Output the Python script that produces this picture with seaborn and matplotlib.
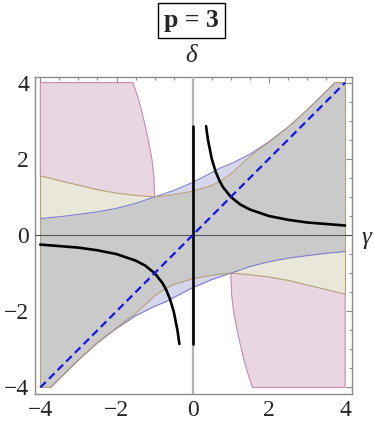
import numpy as np
import pandas as pd
import matplotlib
matplotlib.use("Agg")
import matplotlib.pyplot as plt
from matplotlib.ticker import MultipleLocator, FixedLocator
import seaborn as sns

# ---------------- data ----------------
gam = [-4.0, -3.73, -3.5, -3.0, -2.5, -2.0, -1.5, -1.0, -0.7, -0.5, 0.0,
       0.5, 0.7, 1.0, 1.5, 2.0, 2.5, 3.0, 3.5, 3.73, 4.0]
# upper tan (yellow-region) boundary
upper_tan = [1.55, 1.49, 1.43, 1.31, 1.19, 1.10, 1.04, 1.00, 1.03, 1.06, 1.15,
             1.30, 1.40, 1.60, 2.06, 2.43, 2.82, 3.28, 3.77, 4.00, 4.00]
# upper blue (lavender-region) boundary
upper_blue = [0.43, 0.46, 0.48, 0.54, 0.61, 0.70, 0.83, 1.00, 1.10, 1.17, 1.38,
              1.64, 1.75, 1.87, 2.12, 2.45, 2.83, 3.28, 3.77, 4.00, 4.00]
# lower tan boundary
lower_tan = [-4.00, -4.00, -3.77, -3.28, -2.82, -2.43, -2.06, -1.60, -1.40, -1.30, -1.15,
             -1.06, -1.03, -1.00, -1.04, -1.10, -1.19, -1.31, -1.43, -1.49, -1.55]
# lower blue boundary
lower_blue = [-4.00, -4.00, -3.77, -3.28, -2.83, -2.45, -2.12, -1.87, -1.75, -1.64, -1.38,
              -1.17, -1.10, -1.00, -0.83, -0.70, -0.61, -0.54, -0.48, -0.46, -0.43]

# pink region, curved edge (upper-left) and its mirror (lower-right)
pink_ul_g = [-1.57, -1.45, -1.35, -1.25, -1.15, -1.07, -1.02, -1.00]
pink_ul_d = [4.00, 3.65, 3.30, 2.88, 2.42, 1.99, 1.55, 1.00]
pink_lr_g = [1.57, 1.45, 1.35, 1.25, 1.15, 1.07, 1.02, 1.00]
pink_lr_d = [-4.00, -3.65, -3.30, -2.88, -2.42, -1.99, -1.55, -1.00]

# hyperbola branches (black)
hyp_up_g = [0.35, 0.40, 0.50, 0.60, 0.70, 0.80, 1.00, 1.25, 1.50, 2.00, 2.50, 3.00, 3.50, 4.00]
hyp_up_d = [2.86, 2.50, 2.00, 1.67, 1.43, 1.25, 1.00, 0.80, 0.67, 0.50, 0.40, 0.33, 0.29, 0.25]
hyp_lo_g = [-4.00, -3.50, -3.00, -2.50, -2.00, -1.50, -1.25, -1.00, -0.80, -0.70, -0.60, -0.50, -0.40, -0.35]
hyp_lo_d = [-0.25, -0.29, -0.33, -0.40, -0.50, -0.67, -0.80, -1.00, -1.25, -1.43, -1.67, -2.00, -2.50, -2.86]
# vertical black segment at gamma = 0
vseg_g = [0.0, 0.0]
vseg_d = [-2.86, 2.86]
# dashed diagonal
diag_g = [-4.0, 4.0]
diag_d = [-4.0, 4.0]

x_ticks = [-4, -2, 0, 2, 4]
y_ticks = [-4, -2, 0, 2, 4]
title_text = "p = 3"

# ---------------- style ----------------
sns.set_style("white")
plt.rcParams["font.family"] = ["Liberation Serif", "DejaVu Serif"]
plt.rcParams["axes.unicode_minus"] = True

GRAY = "#cacaca"
LAV = "#d5d5ec"
BEIGE = "#e8e7d9"
PINK = "#e8d6e1"
BLUE_E = "#7d7dcc"
TAN_E = "#b49f76"
PINK_E = "#c88aaa"

fig = plt.figure(figsize=(3.74, 4.28), dpi=100)
ax = fig.add_axes([0.0928, 0.0787, 0.8476, 0.7407])

g = np.array(gam)
ut, ub = np.array(upper_tan), np.array(upper_blue)
lt, lb = np.array(lower_tan), np.array(lower_blue)

# gray (intersection)
ax.fill_between(g, np.maximum(lt, lb), np.minimum(ut, ub), color=GRAY, lw=0, zorder=1)
# lavender / beige upper
ax.fill_between(g, ut, ub, where=ub >= ut, interpolate=True, color=LAV, lw=0, zorder=1)
ax.fill_between(g, ub, ut, where=ut >= ub, interpolate=True, color=BEIGE, lw=0, zorder=1)
# lavender / beige lower
ax.fill_between(g, lb, lt, where=lt >= lb, interpolate=True, color=LAV, lw=0, zorder=1)
ax.fill_between(g, lt, lb, where=lb >= lt, interpolate=True, color=BEIGE, lw=0, zorder=1)

# pink regions
m_ul = g <= -1.0
ul_x = np.concatenate([[g[0]], pink_ul_g, g[m_ul][::-1]])
ul_y = np.concatenate([[4.0], pink_ul_d, ut[m_ul][::-1]])
ax.fill(ul_x, ul_y, color=PINK, lw=0, zorder=1)
ax.plot(np.concatenate([[g[0]], [g[0]], pink_ul_g]),
        np.concatenate([[ut[0]], [4.0], pink_ul_d]), color=PINK_E, lw=0.8, zorder=2)
m_lr = g >= 1.0
lr_x = np.concatenate([[g[-1]], pink_lr_g, g[m_lr]])
lr_y = np.concatenate([[-4.0], pink_lr_d, lt[m_lr]])
ax.fill(lr_x, lr_y, color=PINK, lw=0, zorder=1)
ax.plot(np.concatenate([[g[-1]], [g[-1]], pink_lr_g]),
        np.concatenate([[lt[-1]], [-4.0], pink_lr_d]), color=PINK_E, lw=0.8, zorder=2)

# region edges
for arr, col in [(ub, BLUE_E), (lb, BLUE_E), (ut, TAN_E), (lt, TAN_E)]:
    ax.plot(g, arr, color=col, lw=0.8, zorder=2)
ax.plot([g[0], g[0]], [lt[0], ut[0]], color=TAN_E, lw=0.8, zorder=2)
ax.plot([g[-1], g[-1]], [lt[-1], ut[-1]], color=TAN_E, lw=0.8, zorder=2)

# axes lines
ax.axhline(0, color="#555555", lw=0.8, zorder=3)
ax.axvline(0, color="#b4b4b4", lw=1.6, zorder=3)

# curves via seaborn
line_kw = dict(ax=ax, sort=False, estimator=None, legend=False)
sns.lineplot(x=hyp_up_g, y=hyp_up_d, color="black", lw=1.9, zorder=5, **line_kw)
sns.lineplot(x=hyp_lo_g, y=hyp_lo_d, color="black", lw=1.9, zorder=5, **line_kw)
sns.lineplot(x=vseg_g, y=vseg_d, color="black", lw=1.9, zorder=5, **line_kw)
sns.lineplot(x=diag_g, y=diag_d, color="#1515ee", lw=1.6, zorder=6,
             dashes=False, linestyle=(0, (3.5, 2.0)), **line_kw)

ax.set_xlim(-4.147, 4.173)
ax.set_ylim(-4.18, 4.14)
ax.xaxis.set_major_locator(FixedLocator(x_ticks))
ax.yaxis.set_major_locator(FixedLocator(y_ticks))
ax.xaxis.set_minor_locator(MultipleLocator(0.5))
ax.yaxis.set_minor_locator(MultipleLocator(0.5))
ax.set_xticklabels([f"{v}".replace("-", "\u2212") for v in x_ticks])
ax.set_yticklabels([f"{v}".replace("-", "\u2212") for v in y_ticks])
ax.tick_params(which="both", direction="in", top=True, right=True, color="#8a8a8a",
               labelsize=17, width=0.8)
ax.tick_params(which="major", length=4.5, pad=4)
ax.tick_params(which="minor", length=2.5)
for sp in ax.spines.values():
    sp.set_visible(True)
    sp.set_color("#8a8a8a")
    sp.set_linewidth(1.0)
ax.set_xlabel("")
ax.set_ylabel("")

# title box and axis labels
fig.text(191.5 / 374, 1 - 20.5 / 428, title_text, ha="center", va="center",
         fontsize=18.5, fontweight="bold",
         bbox=dict(boxstyle="square,pad=0.25", fc="white", ec="black", lw=1.0))
fig.text(191 / 374, 1 - 56 / 428, "\u03b4", ha="center", va="center",
         fontsize=18, fontstyle="italic")
fig.text(366 / 374, 1 - 238 / 428, "\u03b3", ha="center", va="center",
         fontsize=18, fontstyle="italic")

fig.savefig("out.png", dpi=100)
